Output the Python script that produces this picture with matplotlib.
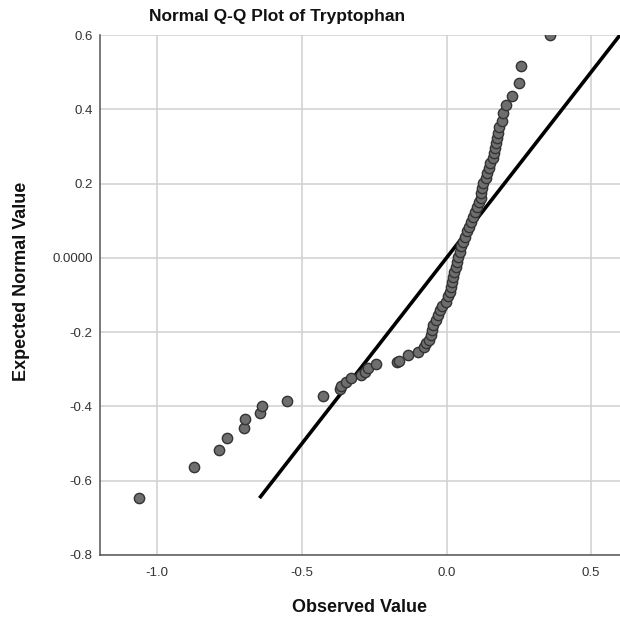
import matplotlib.pyplot as plt
import numpy as np

plt.rcParams['font.family'] = ['Liberation Sans', 'DejaVu Sans']

observed = [-1.065, -0.873, -0.788, -0.760, -0.701, -0.696, -0.646, -0.637,
            -0.553, -0.426, -0.368, -0.366, -0.346, -0.329, -0.294, -0.282,
            -0.272, -0.243, -0.170, -0.164, -0.132, -0.097, -0.078, -0.070,
            -0.060, -0.054, -0.049, -0.046, -0.037, -0.029, -0.022, -0.014,
            -0.001, 0.006, 0.012, 0.016, 0.020, 0.023, 0.027, 0.032, 0.035,
            0.041, 0.046, 0.051, 0.057, 0.064, 0.072, 0.078, 0.083, 0.091,
            0.098, 0.106, 0.112, 0.118, 0.120, 0.123, 0.127, 0.135, 0.141,
            0.147, 0.152, 0.160, 0.164, 0.167, 0.172, 0.175, 0.179, 0.181,
            0.192, 0.195, 0.205, 0.227, 0.250, 0.256, 0.357]
expected = [-0.647, -0.563, -0.517, -0.484, -0.457, -0.435, -0.417, -0.400,
            -0.385, -0.371, -0.354, -0.345, -0.334, -0.324, -0.315, -0.307,
            -0.297, -0.287, -0.280, -0.279, -0.262, -0.253, -0.239, -0.230,
            -0.221, -0.208, -0.194, -0.181, -0.167, -0.154, -0.140, -0.130,
            -0.118, -0.104, -0.091, -0.078, -0.064, -0.051, -0.037, -0.024,
            -0.010, 0.003, 0.017, 0.031, 0.044, 0.057, 0.071, 0.084, 0.097,
            0.111, 0.124, 0.138, 0.151, 0.160, 0.174, 0.187, 0.201, 0.214,
            0.228, 0.241, 0.255, 0.268, 0.281, 0.295, 0.308, 0.322, 0.337,
            0.351, 0.369, 0.389, 0.411, 0.437, 0.470, 0.517, 0.600]

# reference line y = x
ref_line = [-0.643, 0.6]

x_ticks = [-1.0, -0.5, 0.0, 0.5]
x_labels = ['-1.0', '-0.5', '0.0', '0.5']
y_ticks = [-0.8, -0.6, -0.4, -0.2, 0.0, 0.2, 0.4, 0.6]
y_labels = ['-0.8', '-0.6', '-0.4', '-0.2', '0.0000', '0.2', '0.4', '0.6']

fig = plt.figure(figsize=(6.2, 6.24), dpi=100)
ax = fig.add_axes([0.1605, 0.1106, 0.8395, 0.8333])

ax.grid(True, color='#d0d0d0', linewidth=1.1)
ax.set_axisbelow(True)

ax.plot(ref_line, ref_line, color='black', linewidth=2.6, zorder=2)
ax.scatter(observed, expected, s=55, color='#6e6e6e', edgecolors='#333333',
           linewidths=1.0, zorder=3)

ax.set_xlim(-1.2, 0.6)
ax.set_ylim(-0.8, 0.6)
ax.set_xticks(x_ticks)
ax.set_xticklabels(x_labels)
ax.set_yticks(y_ticks)
ax.set_yticklabels(y_labels)
ax.tick_params(length=0, labelsize=9.5, labelcolor='#333333')
ax.tick_params(axis='x', pad=9)
ax.tick_params(axis='y', pad=5)

for s in ['top', 'right']:
    ax.spines[s].set_visible(False)
for s in ['left', 'bottom']:
    ax.spines[s].set_color('#555555')
    ax.spines[s].set_linewidth(1.1)

fig.text(277 / 620, 1 - 17 / 624, 'Normal Q-Q Plot of Tryptophan',
         ha='center', va='center', fontsize=12.5, fontweight='bold', color='#111111')
fig.text(360 / 620, 1 - 608 / 624, 'Observed Value', ha='center', va='center',
         fontsize=13, fontweight='bold', color='#111111')
fig.text(21 / 620, 1 - 281 / 624, 'Expected Normal Value', ha='center', va='center',
         rotation=90, fontsize=13, fontweight='bold', color='#111111')

plt.savefig('out.png', dpi=100)
